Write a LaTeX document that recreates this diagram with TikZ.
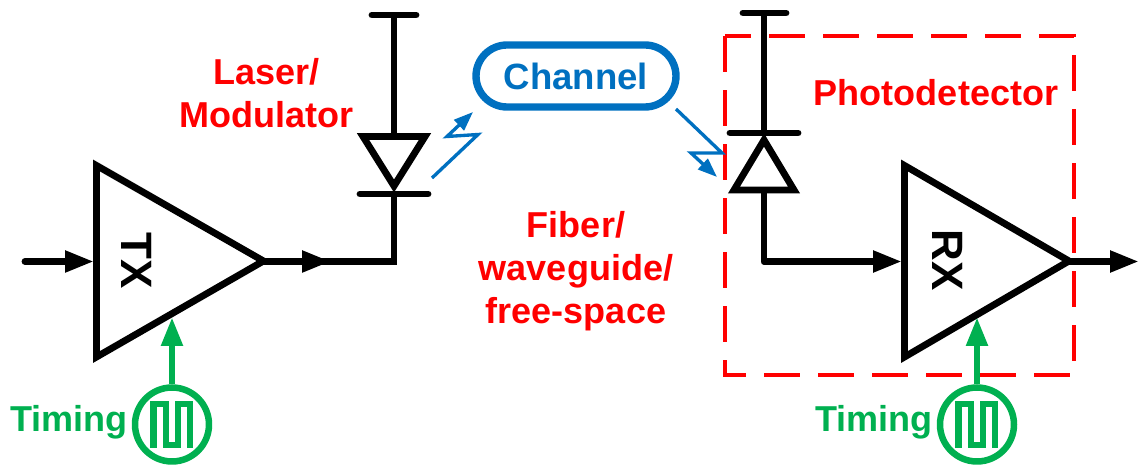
\documentclass[tikz,border=0pt]{standalone}
\usepackage{fontspec}
\setmainfont{Liberation Sans}
\usetikzlibrary{arrows.meta,positioning}
\definecolor{chanblue}{HTML}{0070C0}
\definecolor{timegreen}{HTML}{00B050}
\begin{document}
\begin{tikzpicture}[x=0.02cm,y=-0.02cm,
      wire/.style={line width=3.9pt, line cap=round, line join=miter, black},
      pfeil/.style={line width=3.9pt, black, -{Triangle[length=16.5pt,width=11.6pt]}},
      ray/.style={line width=1.9pt, chanblue, -{Triangle[length=11pt,width=8pt]}},
      redlabel/.style={font=\fontsize{20.5}{24.4}\selectfont\bfseries, text=red, align=center, inner sep=0pt},
      greenlabel/.style={font=\fontsize{20.5}{24.4}\selectfont\bfseries, text=timegreen, inner sep=0pt},
      amptext/.style={font=\fontsize{25}{26}\selectfont\bfseries, rotate=-90, inner sep=0pt},
      clock/.style={circle, draw=timegreen, line width=3.7pt, minimum size=1.48cm, inner sep=0pt},
      wave/.style={line width=3.6pt, timegreen, line join=miter}]
\useasboundingbox (0,0) rectangle (1140,465);

% photodetector box goes under everything
\draw[red, line width=2.6pt, dash pattern=on 20.49pt off 10.25pt] (725,36) -- (725,375) -- (1074,375) -- (1074,36) -- cycle;

% transmitter
\coordinate (txin) at (25,261.5);
\coordinate (txleft) at (94,261.5);
\coordinate (txtip) at (262,261.5);
\coordinate (txmid) at (331,261.5);
\coordinate (txlow) at (172,317);
\draw[wire, line cap=butt] (96.5,165.5) -- (96.5,357) -- (263.5,261) -- cycle;
\node[amptext] (tx) at (137,261) {TX};
\draw[pfeil, line cap=round] (txin) -- (txleft);

% laser
\coordinate (lastop) at (394,15);
\coordinate (lasbase) at (394,137);
\coordinate (lasapex) at (394,194);
\coordinate (lascorner) at (394,261.5);
\draw[wire] (372,15) -- (416,15);
\draw[wire, line cap=butt] (lastop) -- (lasbase);
\draw[wire, line cap=butt] (363,136.5) -- (425,136.5) -- (394,186) -- cycle;
\draw[wire] (360,194) -- (428,194);
\draw[wire, line cap=butt] (txtip) -- (lascorner) -- (lasapex);
\draw[pfeil] (txtip) -- (txmid);

% channel
\node[draw=chanblue, line width=4.2pt, rounded corners=0.62cm, minimum width=4cm, minimum height=1.24cm,
      inner sep=0pt, font=\fontsize{20.8}{24}\selectfont\bfseries, text=chanblue] (chan) at (576,76) {Channel};
\coordinate (ray1a) at (432,178);
\coordinate (ray1b) at (478,134.5);
\coordinate (ray1c) at (447,136.5);
\coordinate (ray1d) at (473,112);
\draw[ray] (ray1a) -- (ray1b) -- (ray1c) -- (ray1d);
\coordinate (ray2a) at (676,109);
\coordinate (ray2b) at (722,153);
\coordinate (ray2c) at (691,153);
\coordinate (ray2d) at (717,177);
\draw[ray] (ray2a) -- (ray2b) -- (ray2c) -- (ray2d);

% detector
\coordinate (pdtop) at (764,13);
\coordinate (pdbar) at (764,133);
\coordinate (pdbase) at (764,190);
\coordinate (pdcorner) at (764,261.5);
\coordinate (rxleft) at (902,261.5);
\draw[wire] (743,13) -- (786,13);
\draw[wire, line cap=butt] (pdtop) -- (pdbar);
\draw[wire] (730,133) -- (798,133);
\draw[wire, line cap=butt] (764,140) -- (734,190) -- (794,190) -- cycle;
\draw[pfeil, line join=round] (pdbase) -- (pdcorner) -- (rxleft);

% receiver
\coordinate (rxtip) at (1068,261.5);
\coordinate (rxout) at (1139,261.5);
\coordinate (rxlow) at (977,317);
\draw[wire, line cap=butt] (904.5,165.5) -- (904.5,357) -- (1069,261) -- cycle;
\node[amptext] (rx) at (948,260) {RX};
\draw[pfeil] (rxtip) -- (rxout);

% timing
\node[clock] (clk1) at (172,424.5) {};
\node[clock] (clk2) at (977,424.5) {};
\draw[pfeil, timegreen] (clk1) -- (txlow);
\draw[pfeil, timegreen] (clk2) -- (rxlow);
\draw[wave] (153.5,448) -- (153.5,404) -- (166,404) -- (166,445) -- (178,445) -- (178,404) -- (190,404) -- (190,448);
\draw[wave] (958.5,448) -- (958.5,404) -- (971,404) -- (971,445) -- (983,445) -- (983,404) -- (995,404) -- (995,448);
\node[greenlabel, left=2pt of clk1, yshift=1.5pt] (time1) {Timing};
\node[greenlabel, left=2pt of clk2, yshift=1.5pt] (time2) {Timing};

% labels
\node[redlabel] (laser) at (266.5,93.5) {Laser/\\Modulator};
\node[redlabel] (pd) at (936,93) {Photodetector};
\node[redlabel] (fiber) at (576,271) {Fiber/\\waveguide/\\free-space};
\end{tikzpicture}
\end{document}
